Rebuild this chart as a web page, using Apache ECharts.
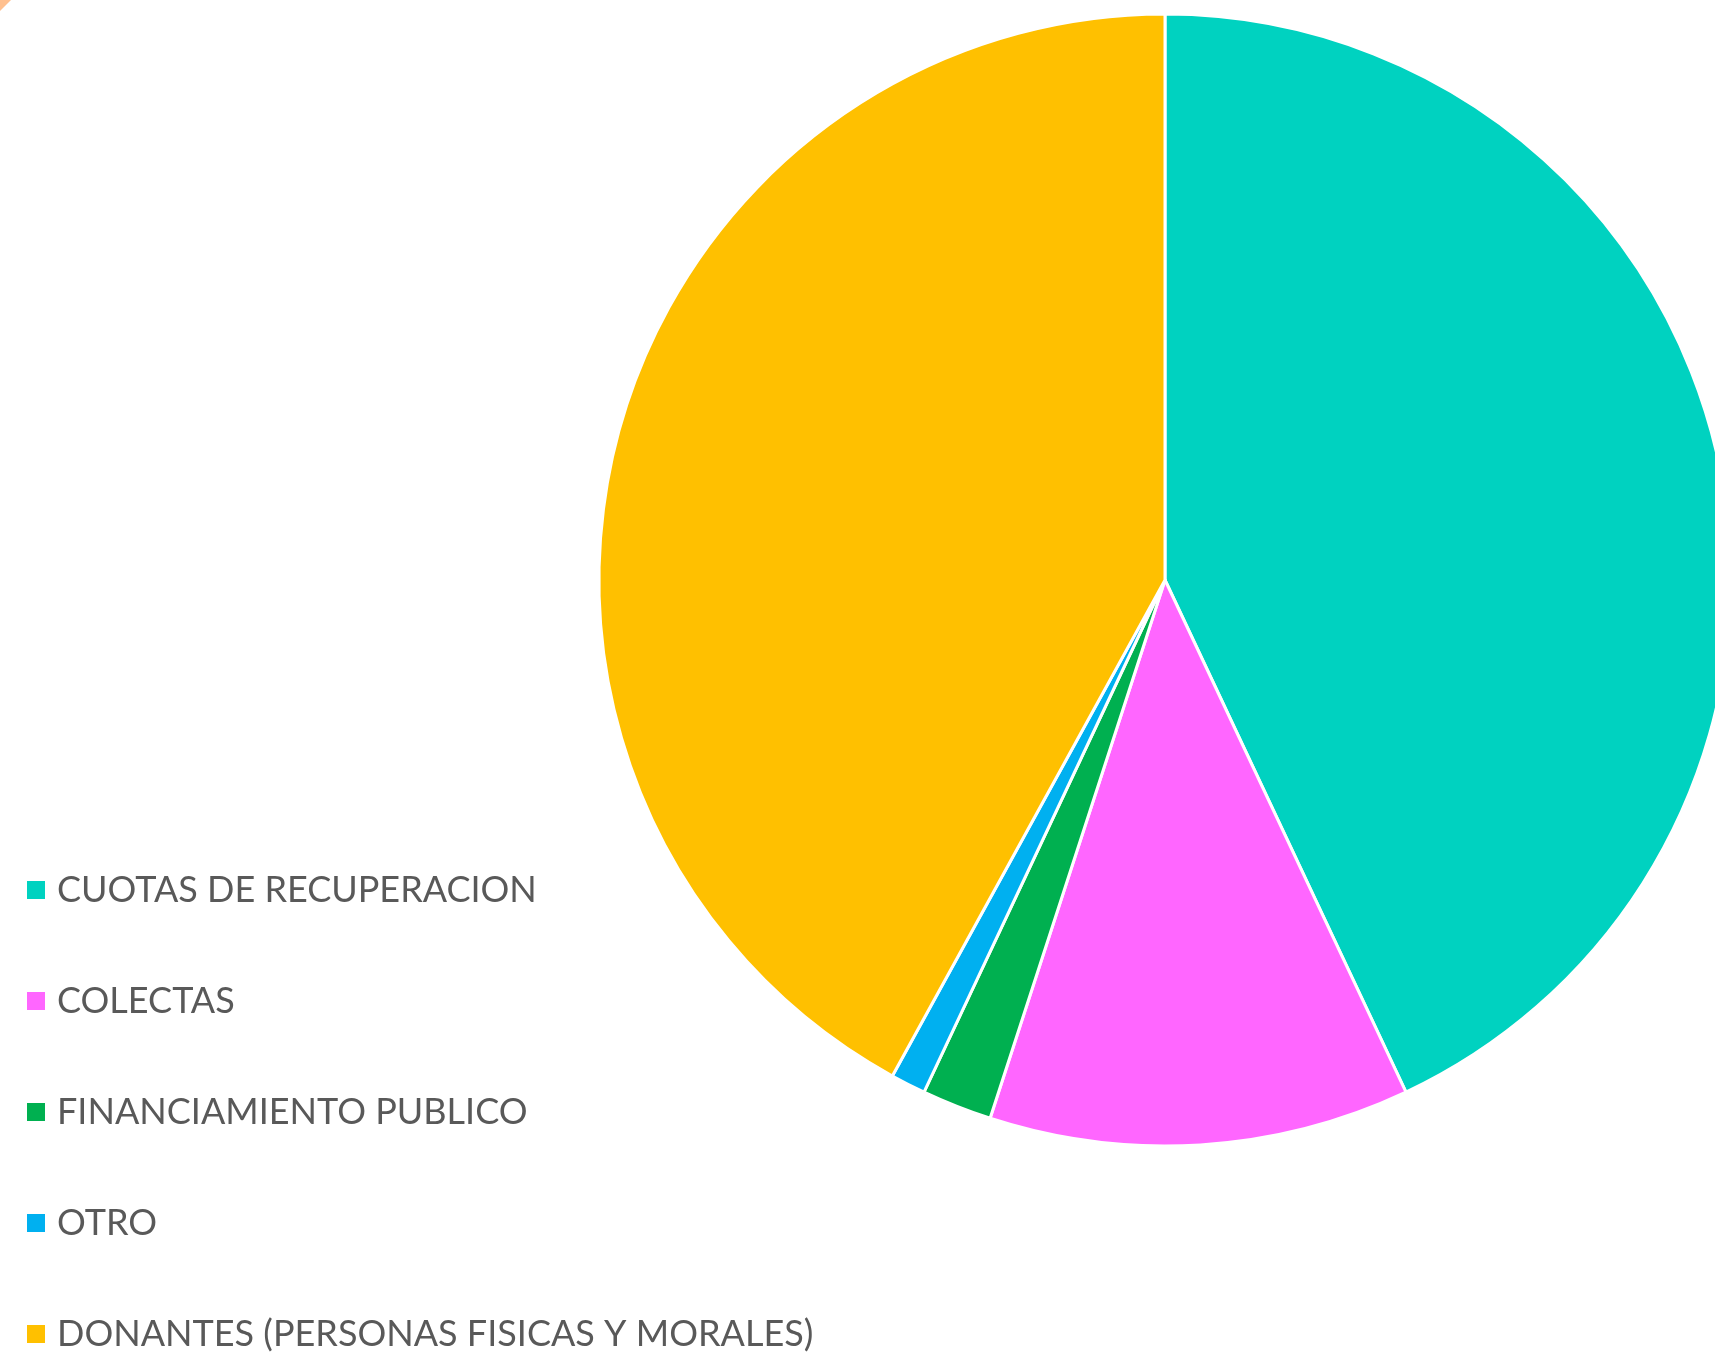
<!DOCTYPE html>
<html>
<head>
<meta charset="utf-8">
<script src="https://cdn.jsdelivr.net/npm/echarts@6/dist/echarts.min.js"></script>
<style>html,body{margin:0;padding:0;background:#fff}#c{width:1715px;height:1360px}</style>
</head>
<body>
<div id="c"></div>
<script>
const categories = ['CUOTAS DE RECUPERACION', 'COLECTAS', 'FINANCIAMIENTO PUBLICO', 'OTRO', 'DONANTES (PERSONAS FISICAS Y MORALES)'];
const values = [43, 12, 2, 1, 42];
const colors = ['#00D2C0', '#FF66FF', '#00B050', '#00B0F0', '#FFC000'];

const chart = echarts.init(document.getElementById('c'), null, {renderer: 'canvas'});
chart.setOption({
  backgroundColor: '#ffffff',
  animation: false,
  color: colors,
  graphic: [{
    type: 'polygon',
    shape: {points: [[0, 0], [11, 0], [0, 11]]},
    style: {fill: '#FFC08F'}
  }],
  legend: {
    orient: 'vertical',
    left: 20,
    top: 865,
    height: 600,
    icon: 'rect',
    itemWidth: 20,
    itemHeight: 20,
    itemGap: 71,
    textStyle: {fontFamily: 'Lato', fontSize: 36, color: '#595959', lineHeight: 40, padding: [0, 0, 0, 6]},
    data: categories
  },
  series: [{
    type: 'pie',
    center: [1165, 580],
    radius: 566,
    startAngle: 90,
    clockwise: true,
    label: {show: false},
    labelLine: {show: false},
    itemStyle: {borderColor: '#ffffff', borderWidth: 3},
    emphasis: {disabled: true},
    data: categories.map((n, i) => ({name: n, value: values[i]}))
  }]
});
</script>
</body>
</html>
